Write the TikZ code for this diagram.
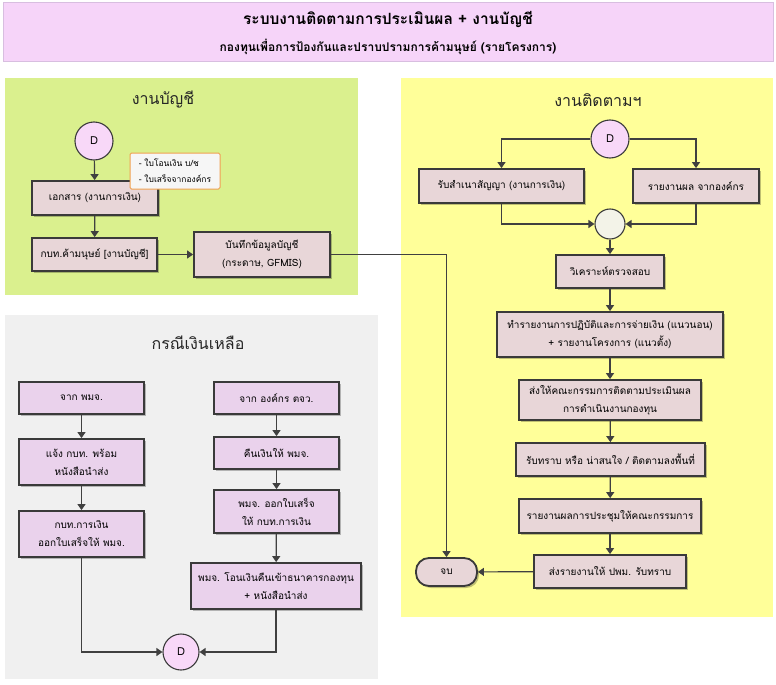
\documentclass[tikz,border=0pt]{standalone}
\usepackage{fontspec}
\setmainfont[Script=Thai]{Loma}
\usetikzlibrary{arrows.meta,shadows}
\definecolor{bdr}{HTML}{3A3A3A}
\definecolor{lnc}{HTML}{404040}
\definecolor{boxa}{HTML}{E8D6D8}
\definecolor{boxb}{HTML}{EAD2EC}
\definecolor{circp}{HTML}{F8D8F8}
\definecolor{mergec}{HTML}{F3F3E8}
\definecolor{greenp}{HTML}{DAF08E}
\definecolor{yellowp}{HTML}{FFFF99}
\definecolor{grayp}{HTML}{F0F0F0}
\definecolor{titlef}{HTML}{F6D4F9}
\definecolor{titled}{HTML}{D8BEE0}
\definecolor{noteb}{HTML}{F0A050}
\definecolor{notef}{HTML}{F6F6F6}
\begin{document}
\begin{tikzpicture}[x=1pt,y=-1pt,
  shad/.style={drop shadow={shadow xshift=2pt,shadow yshift=-2pt,fill=black,opacity=0.25}},
  stepbox/.style={draw=bdr,line width=1.8pt,fill=boxa,align=center,inner sep=0pt,
    font=\fontsize{10}{18}\selectfont,shad},
  lavbox/.style={stepbox,fill=boxb},
  dcirc/.style={circle,draw=bdr,line width=1.1pt,fill=circp,inner sep=0pt,minimum size=38pt,font=\fontsize{11}{13}\selectfont},
  conn/.style={draw=lnc,line width=1.2pt,-{Triangle[width=8pt,length=6pt]}},
  ptitle/.style={font=\fontsize{16}{20}\selectfont,text=black!85}]
\useasboundingbox (0,0) rectangle (776,685);
% title
\draw[fill=titlef,draw=titled,line width=1pt] (3,3) rectangle (773,62);
\node[font=\bfseries\fontsize{15.5}{18}\selectfont] (t1) at (388,20) {ระบบงานติดตามการประเมินผล + งานบัญชี};
\node[font=\bfseries\fontsize{12}{15}\selectfont] (t2) at (388,47) {กองทุนเพื่อการป้องกันและปราบปรามการค้ามนุษย์ (รายโครงการ)};
% panels
\fill[greenp] (5,78) rectangle (358,295);
\fill[yellowp] (401,78) rectangle (773,617);
\fill[grayp] (5,315) rectangle (378,679);
\node[ptitle] (pg) at (163,100) {งานบัญชี};
\node[ptitle] (py) at (598,100) {งานติดตามฯ};
\node[ptitle] (pc) at (198,343) {กรณีเงินเหลือ};
% green panel
\node[dcirc] (dA) at (94,141) {D};
\node[stepbox,minimum width=126pt,minimum height=34pt] (doc) at (95,198) {เอกสาร (งานการเงิน)};
\node[draw=noteb,line width=1pt,fill=notef,rounded corners=1.5pt,minimum width=90pt,minimum height=36pt,align=left,font=\fontsize{8.5}{16}\selectfont,inner sep=0pt] (note) at (175,171) {- ใบโอนเงิน บ/ช\\- ใบเสร็จจากองค์กร};
\node[stepbox,minimum width=125pt,minimum height=33pt] (kbt) at (94.5,254.5) {กบท.ค้ามนุษย์ [งานบัญชี]};
\node[stepbox,minimum width=136pt,minimum height=45pt] (rec) at (262,254.5) {บันทึกข้อมูลบัญชี\\(กระดาษ, GFMIS)};
% yellow panel
\node[dcirc] (dY) at (610,139) {D};
\node[stepbox,minimum width=165pt,minimum height=34pt] (copy) at (501.5,186) {รับสำเนาสัญญา (งานการเงิน)};
\node[stepbox,minimum width=126pt,minimum height=34pt] (rep) at (696,186) {รายงานผล จากองค์กร};
\node[circle,draw=bdr,line width=1.1pt,fill=mergec,minimum size=30pt,inner sep=0pt] (merge) at (610,224) {};
\node[stepbox,minimum width=108pt,minimum height=33pt] (anal) at (610,271.5) {วิเคราะห์ตรวจสอบ};
\node[stepbox,minimum width=226pt,minimum height=45pt] (mk) at (610,334.5) {ทำรายงานการปฏิบัติและการจ่ายเงิน (แนวนอน)\\+ รายงานโครงการ (แนวตั้ง)};
\node[stepbox,minimum width=182pt,minimum height=40pt] (send) at (610,400) {ส่งให้คณะกรรมการติดตามประเมินผล\\การดำเนินงานกองทุน};
\node[stepbox,minimum width=189pt,minimum height=33pt] (ack) at (610.5,459.5) {รับทราบ หรือ น่าสนใจ / ติดตามลงพื้นที่};
\node[stepbox,minimum width=182pt,minimum height=34pt] (meet) at (610,516) {รายงานผลการประชุมให้คณะกรรมการ};
\node[stepbox,minimum width=152pt,minimum height=33pt] (rpt) at (610,571.5) {ส่งรายงานให้ ปพม. รับทราบ};
\node[stepbox,minimum width=61pt,minimum height=28pt,rounded corners=13pt] (end) at (446.5,572) {จบ};
% gray panel
\node[lavbox,minimum width=125pt,minimum height=32pt] (l1) at (81.5,398) {จาก พมจ.};
\node[lavbox,minimum width=125pt,minimum height=46pt] (l2) at (81.5,462) {แจ้ง กบท. พร้อม\\หนังสือนำส่ง};
\node[lavbox,minimum width=125pt,minimum height=46pt] (l3) at (81.5,534) {กบท.การเงิน\\ออกใบเสร็จให้ พมจ.};
\node[lavbox,minimum width=125pt,minimum height=32pt] (r1) at (276.5,398) {จาก องค์กร ตจว.};
\node[lavbox,minimum width=125pt,minimum height=32pt] (r2) at (276.5,453) {คืนเงินให้ พมจ.};
\node[lavbox,minimum width=125pt,minimum height=43pt] (r3) at (276.5,511.5) {พมจ. ออกใบเสร็จ\\ให้ กบท.การเงิน};
\node[lavbox,minimum width=170pt,minimum height=46pt] (r4) at (276,586) {พมจ. โอนเงินคืนเข้าธนาคารกองทุน\\+ หนังสือนำส่ง};
\node[dcirc,minimum size=36pt] (dG) at (181,652) {D};
% connectors green
\draw[conn] (dA) -- (doc);
\draw[conn] (doc) -- (kbt);
\draw[conn] (kbt) -- (rec);
\draw[conn] (rec.east) -| (end.north);
% connectors yellow
\draw[conn] (dY.west) -| (copy.north);
\draw[conn] (dY.east) -| (rep.north);
\draw[conn] (copy.south) |- (merge.west);
\draw[conn] (rep.south) |- (merge.east);
\draw[conn] (merge) -- (anal);
\draw[conn] (anal) -- (mk);
\draw[conn] (mk) -- (send);
\draw[conn] (send) -- (ack);
\draw[conn] (ack) -- (meet);
\draw[conn] (meet) -- (rpt);
\draw[conn] (rpt) -- (end);
% connectors gray
\draw[conn] (l1) -- (l2);
\draw[conn] (l2) -- (l3);
\draw[conn] (l3.south) |- (dG.west);
\draw[conn] (r1) -- (r2);
\draw[conn] (r2) -- (r3);
\draw[conn] (r3) -- (r4);
\draw[conn] (r4.south) |- (dG.east);
\end{tikzpicture}
\end{document}
